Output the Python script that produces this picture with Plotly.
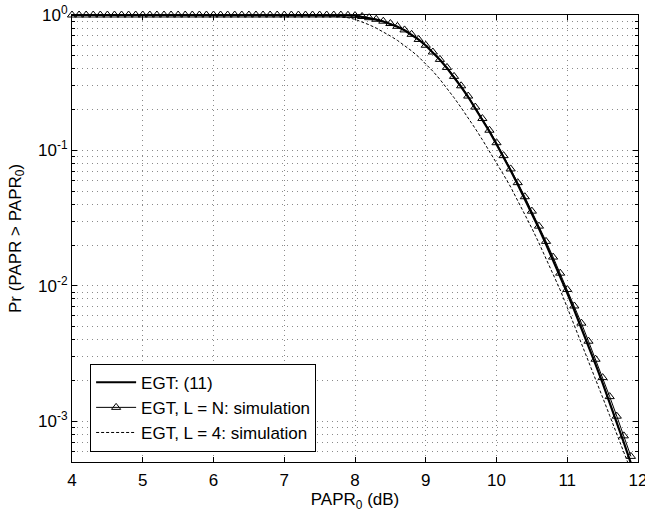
import plotly.graph_objects as go
import math

# ---- data ----
x_grid = [round(4.0 + 0.1 * i, 1) for i in range(81)]  # 4.0 .. 12.0 dB

x_analytic = [4.0, 5.0, 6.0, 7.0, 7.5, 7.6, 7.7, 7.8, 7.9, 8.0, 8.1, 8.2, 8.3, 8.4, 8.5,
              8.6, 8.7, 8.8, 8.9, 9.0, 9.1, 9.2, 9.3, 9.4, 9.5, 9.6, 9.7, 9.8, 9.9,
              10.0, 10.1, 10.2, 10.3, 10.4, 10.5, 10.6, 10.7, 10.8, 10.9, 11.0,
              11.1, 11.2, 11.3, 11.4, 11.5, 11.6, 11.7, 11.8, 11.9, 12.0]
y_analytic = [1.0, 1.0, 1.0, 1.0, 1.0, 0.9997, 0.9993, 0.998, 0.995, 0.987, 0.97, 0.95,
              0.925, 0.895, 0.86, 0.82, 0.772, 0.718, 0.658, 0.595, 0.53, 0.467, 0.406,
              0.348, 0.295, 0.248, 0.2055, 0.169, 0.138, 0.111, 0.0893, 0.0711, 0.0561,
              0.0440, 0.0343, 0.0265, 0.0203, 0.0155, 0.0117, 0.00883, 0.0066, 0.0049,
              0.0036, 0.00263, 0.00191, 0.001375, 0.000981, 0.000695, 0.000489, 0.000341]

x_simN = x_grid[:80]  # 4.0 .. 11.9
y_simN = [1.0] * 36 + [
    1.0, 0.9995, 0.999, 0.996,                     # 7.6 - 7.9
    0.99, 0.975, 0.955, 0.93, 0.90, 0.865, 0.825, 0.776, 0.72, 0.66,   # 8.0 - 8.9
    0.598, 0.533, 0.47, 0.41, 0.352, 0.30, 0.252, 0.209, 0.172, 0.141,  # 9.0 - 9.9
    0.114, 0.0915, 0.073, 0.0578, 0.0455, 0.0356, 0.0276, 0.0213, 0.0163, 0.0124,  # 10.x
    0.0094, 0.0071, 0.0053, 0.0039, 0.00287, 0.0021, 0.00152, 0.00109, 0.00078, 0.00055  # 11.x
]

x_sim4 = [4.0, 5.0, 6.0, 7.0, 7.4, 7.5, 7.6, 7.7, 7.8, 7.9, 8.0, 8.1, 8.2, 8.3, 8.4, 8.5,
          8.6, 8.7, 8.8, 8.9, 9.0, 9.1, 9.2, 9.3, 9.4, 9.5, 9.6, 9.7, 9.8, 9.9,
          10.0, 10.1, 10.2, 10.3, 10.4, 10.5, 10.6, 10.7, 10.8, 10.9, 11.0,
          11.1, 11.2, 11.3, 11.4, 11.5, 11.6, 11.7, 11.8, 11.9, 12.0]
y_sim4 = [1.0, 1.0, 1.0, 1.0, 0.999, 0.995, 0.991, 0.982, 0.968, 0.955, 0.929, 0.891,
          0.847, 0.800, 0.750, 0.700, 0.649, 0.596, 0.543, 0.490, 0.437, 0.385, 0.335,
          0.288, 0.245, 0.207, 0.174, 0.145, 0.120, 0.0989, 0.0813, 0.0661, 0.0537,
          0.0427, 0.0339, 0.0266, 0.0207, 0.0160, 0.0123, 0.00933, 0.00692, 0.00513,
          0.00380, 0.00279, 0.00204, 0.00150, 0.00110, 0.000804, 0.000589, 0.000432,
          0.000316]

x_ticks = [4, 5, 6, 7, 8, 9, 10, 11, 12]
y_tickvals = [1e-3, 1e-2, 1e-1, 1]
y_ticktext = ["10<sup>-3</sup>", "10<sup>-2</sup>", "10<sup>-1</sup>", "10<sup>0</sup>"]
names = ["EGT: (11)", "EGT, L = N: simulation", "EGT, L = 4: simulation"]

# ---- figure ----
FONT = "Arial, 'Liberation Sans', Helvetica, sans-serif"
FS = 17
fig = go.Figure()

fig.add_trace(go.Scatter(x=x_analytic, y=y_analytic, mode="lines", name=names[0],
                         line=dict(color="black", width=2.2)))
fig.add_trace(go.Scatter(x=x_simN, y=y_simN, mode="lines+markers", name=names[1],
                         line=dict(color="black", width=1),
                         marker=dict(symbol="triangle-up-open", size=8,
                                     color="black", line=dict(width=1, color="black")),
                         cliponaxis=False))
fig.add_trace(go.Scatter(x=x_sim4, y=y_sim4, mode="lines", name=names[2],
                         line=dict(color="black", width=1, dash="3px,2px")))

minor_vals = [m * 10 ** e for e in range(-4, 0) for m in range(2, 10)]

grid_col = "#8a8a8a"
grid_dash = "1px,4px"
fig.update_layout(
    width=645, height=512,
    margin=dict(l=72, r=7, t=15, b=50),
    paper_bgcolor="white", plot_bgcolor="white",
    font=dict(family=FONT, size=FS, color="black"),
    showlegend=True,
    legend=dict(x=0.032, y=0.023, xanchor="left", yanchor="bottom",
                bgcolor="white", bordercolor="black", borderwidth=1,
                font=dict(size=FS, family=FONT), tracegroupgap=0,
                itemwidth=40),
    xaxis=dict(range=[4, 12], tickvals=x_ticks, ticks="inside", ticklen=5,
               tickcolor="black", showline=True, linecolor="black", linewidth=1,
               mirror="ticks", showgrid=True, gridcolor=grid_col, griddash=grid_dash,
               gridwidth=1, zeroline=False, ticklabeloverflow="allow",
               ticklabelstandoff=3, automargin=False,
               title=dict(text="PAPR<sub>0</sub> (dB)", font=dict(size=FS), standoff=6),
               tickfont=dict(size=FS)),
    yaxis=dict(type="log", range=[math.log10(5e-4), 0], tickvals=y_tickvals,
               ticktext=y_ticktext, ticks="inside", ticklen=5, tickcolor="black",
               showline=True, linecolor="black", linewidth=1, mirror="ticks",
               showgrid=True, gridcolor=grid_col, griddash=grid_dash, gridwidth=1,
               zeroline=False, ticklabeloverflow="allow", automargin=False,
               minor=dict(tickmode="array", tickvals=minor_vals, ticks="inside",
                          ticklen=3, tickcolor="black", showgrid=True,
                          gridcolor=grid_col, griddash=grid_dash, gridwidth=1),
               title=dict(text="Pr (PAPR > PAPR<sub>0</sub>)", font=dict(size=FS),
                          standoff=12),
               tickfont=dict(size=FS)),
)

# remove the page's default body margin so the 645x512 figure fills the window exactly
fig.write_html("out.html",
               config={"displayModeBar": False},
               post_script="document.body.style.margin='0px';"
                           "document.body.style.overflow='hidden';")
